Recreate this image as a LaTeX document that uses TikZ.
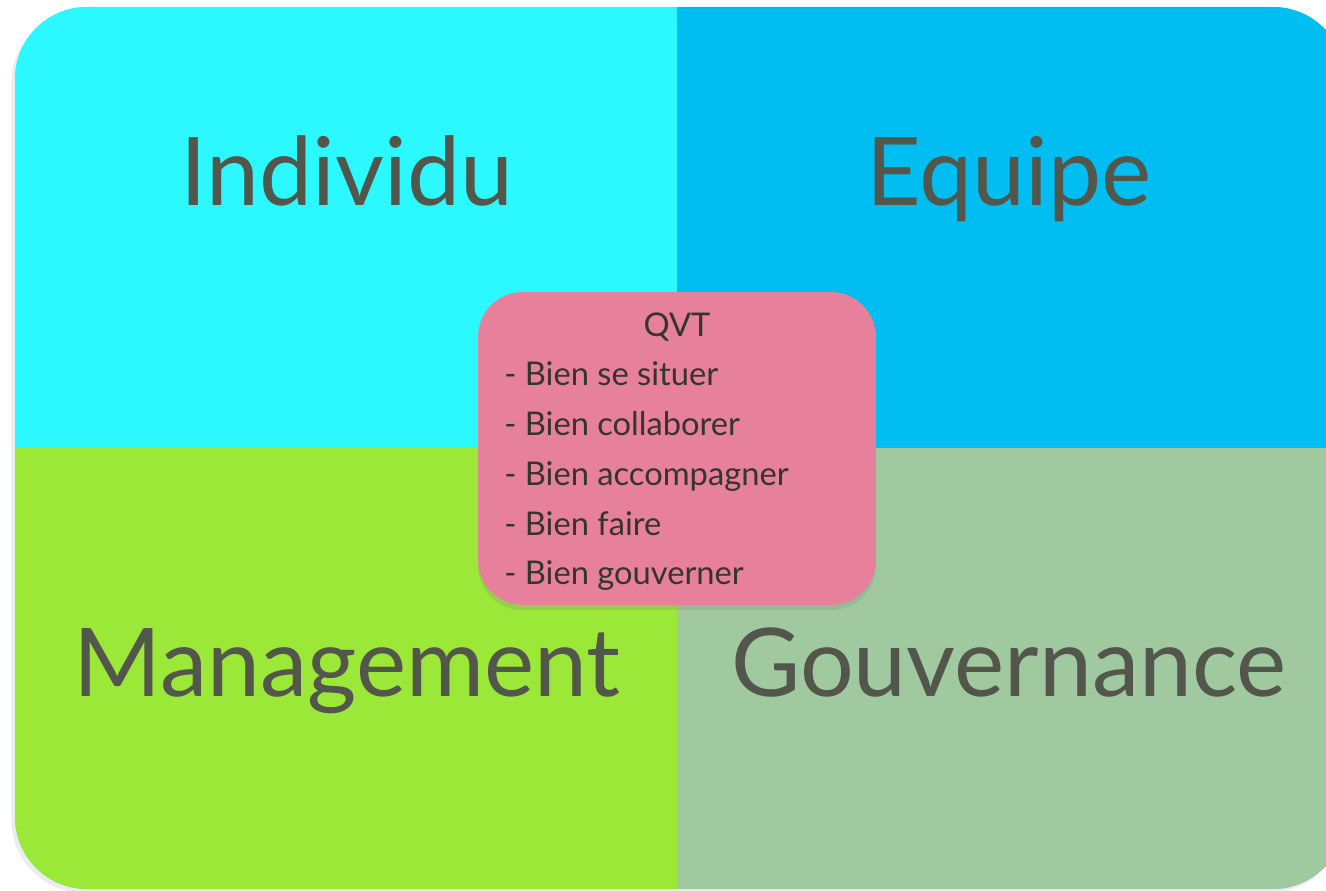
\documentclass[tikz,border=0pt]{standalone}
\usepackage{fontspec}
\setmainfont{Lato}
\usepackage{xcolor}
\usepackage{tikz}
\usetikzlibrary{shadows}
\definecolor{individu}{HTML}{2CF8FF}
\definecolor{equipe}{HTML}{00BDF2}
\definecolor{management}{HTML}{9CE838}
\definecolor{gouvernance}{HTML}{A0C9A0}
\definecolor{rose}{HTML}{E7809A}
\definecolor{gris}{HTML}{53574B}
\definecolor{encre}{HTML}{36342F}

\begin{document}
\begin{tikzpicture}[x=0.02cm,y=-0.02cm,
    titre/.style={font=\fontsize{54}{60}\selectfont,text=gris,anchor=base,inner sep=0pt},
    ligne/.style={font=\fontsize{18.6}{23}\selectfont,text=encre,anchor=base west,inner sep=0pt},
    bulle/.style={fill=rose,rounded corners=0.9cm,minimum width=7.96cm,minimum height=6.26cm,
        drop shadow={opacity=.22,shadow xshift=0pt,shadow yshift=-3pt}}]
  \useasboundingbox (0,0) rectangle (1326,891);
  \fill[individu,rounded corners=1.44cm,drop shadow={opacity=.15,shadow xshift=-2pt,shadow yshift=-2pt}] (15,7) rectangle (1345,889);
  \begin{scope}
    \clip[rounded corners=1.44cm] (15,7) rectangle (1345,889);
    \fill[individu] (15,7) rectangle (677,448);
    \fill[equipe] (677,7) rectangle (1345,448);
    \fill[management] (15,448) rectangle (677,889);
    \fill[gouvernance] (677,448) rectangle (1345,889);
  \end{scope}
  \node[titre] (ind) at (347,206) {Individu};
  \node[titre] (equ) at (1009,206) {Equipe};
  \node[titre] (man) at (347,697) {Management};
  \node[titre] (gou) at (1009,697) {Gouvernance};
  \node[bulle] (qvt) at (677,448.5) {};
  \node[ligne,anchor=base] (tqvt) at (677,337) {QVT};
  \foreach \v [count=\i] in {se situer,collaborer,accompagner,faire,gouverner}
    \node[ligne] (b\i) at (504,{386+49.75*(\i-1)}) {- Bien \v};
\end{tikzpicture}
\end{document}
